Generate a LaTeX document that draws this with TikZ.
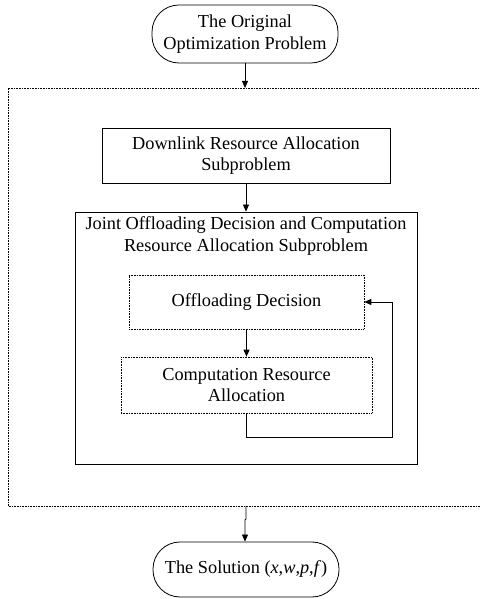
\documentclass[tikz,border=0pt]{standalone}
\usepackage{fontspec}
\setmainfont{Liberation Serif}
\usetikzlibrary{arrows.meta}
\begin{document}
\begin{tikzpicture}[x=1pt,y=1pt,
  every node/.style={font=\fontsize{18.3}{21.5}\selectfont, align=center, inner sep=0pt},
  stadium/.style={draw, line width=0.8pt, rounded corners=27pt, minimum width=186pt},
  solidbox/.style={draw, line width=0.8pt},
  dotbox/.style={draw, line width=0.6pt, dash pattern=on 0.8pt off 0.8pt},
  arr/.style={line width=0.8pt, -{Triangle[length=7pt,width=6pt]}}]
\useasboundingbox (0,0) rectangle (479,599);
% outer dotted frame (right side lies outside the picture)
\draw[dotbox] (482,511) -- (8,511) -- (8,93) -- (482,93);
\coordinate (intop) at (245,511);
\coordinate (inbot) at (246,93);
\coordinate (jog1) at (246,80);
\coordinate (jog2) at (245,79);

\node[stadium, minimum height=58pt] (orig) at (245,565) {The Original\\Optimization Problem};
\node[solidbox, minimum width=288pt, minimum height=55pt] (down) at (246,443.5) {Downlink Resource Allocation\\Subproblem};
\node[solidbox, minimum width=342pt, minimum height=252pt] (joint) at (246,261) {};
\node[anchor=north] (jtitle) at ([yshift=-5pt]joint.north) {Joint Offloading Decision and Computation\\Resource Allocation Subproblem};
\node[dotbox, minimum width=235pt, minimum height=54pt] (off) at (246.5,297) {Offloading Decision};
\node[dotbox, minimum width=251pt, minimum height=56pt] (comp) at (246.5,214) {Computation Resource\\Allocation};
\node[stadium, minimum height=55pt] (sol) at (246,29.5) {The Solution (\textit{x},\textit{w},\textit{p},\textit{f})};

\coordinate (fb1) at (comp.south |- 0,162);
\coordinate (fb2) at (392,162);
\coordinate (fb3) at (392,297);

\draw[arr] (orig.south) -- (intop);
\draw[arr] (down.south) -- (down.south |- joint.north);
\draw[arr] (off.south) -- (off.south |- comp.north);
\draw[arr] (comp.south) -- (fb1) -- (fb2) -- (fb3) -- (off.east);
\draw[arr] (inbot) -- (jog1) -- (jog2) -- (jog2 |- sol.north);
\end{tikzpicture}
\end{document}
